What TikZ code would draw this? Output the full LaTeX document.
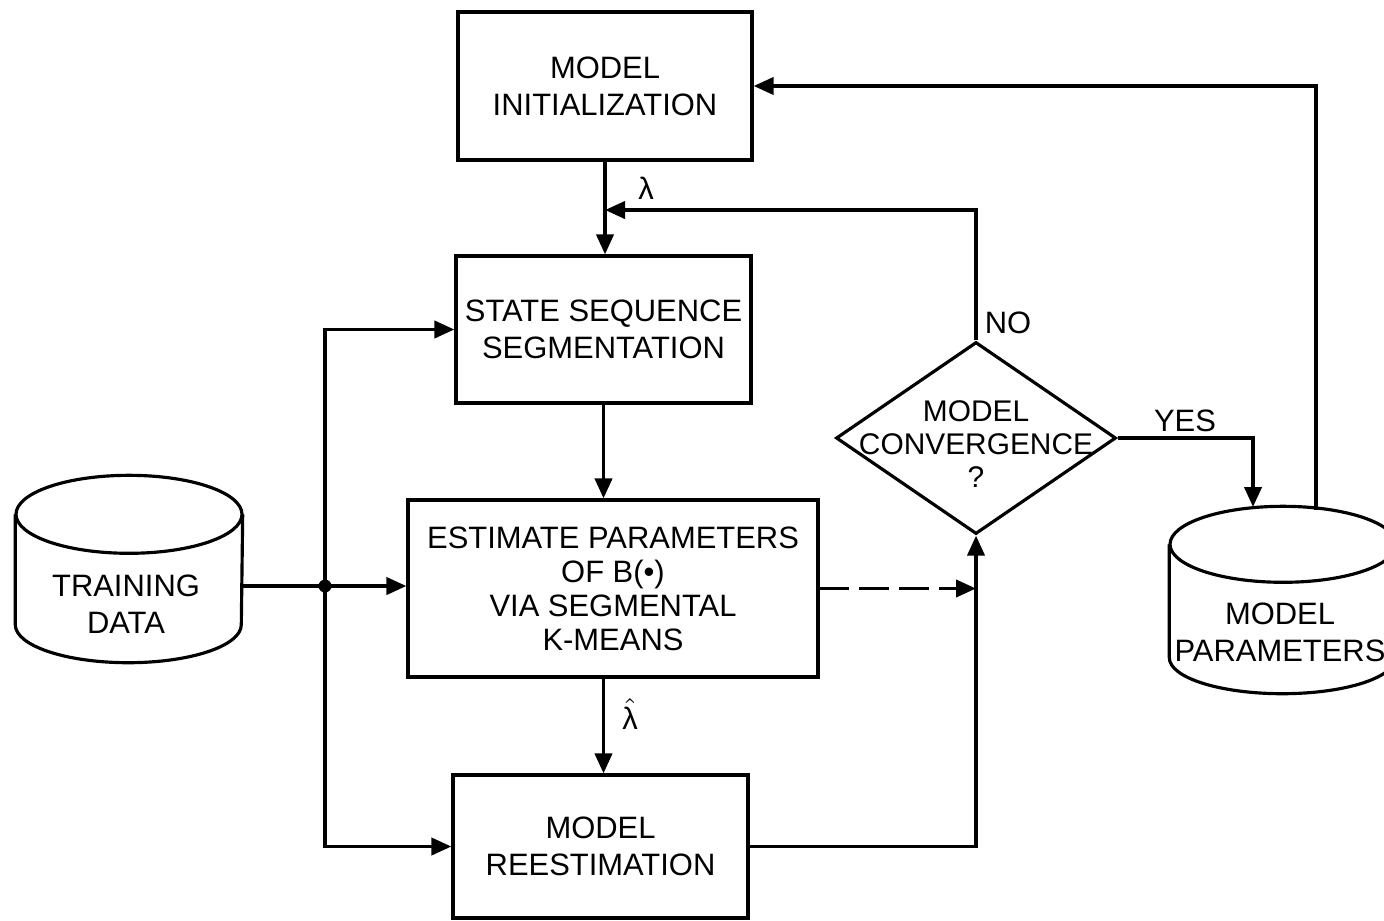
\documentclass[tikz,border=0pt]{standalone}
\usepackage{fontspec}
\setmainfont{Liberation Sans}
\usetikzlibrary{arrows.meta,shapes.geometric,positioning}
\tikzstyle{block}=[draw, line width=0.9pt, align=center, inner sep=0pt, font=\fontsize{8.8}{10.6}\selectfont]
\tikzstyle{store}=[inner sep=0pt, minimum width=2.26cm, minimum height=1.86cm]
\tikzstyle{outline}=[line width=0.9pt]
\tikzstyle{decision}=[draw, diamond, line width=0.9pt, inner sep=0pt, minimum width=2.8cm, minimum height=1.92cm]
\tikzstyle{flow}=[-{Triangle[length=0.2cm,width=0.17cm]}, line width=1.1pt]
\tikzstyle{lbl}=[inner sep=0pt, align=center, font=\fontsize{8.8}{10.6}\selectfont]

\begin{document}
\begin{tikzpicture}
	\useasboundingbox (0,0) rectangle (13.84,9.2);
	% boxes
	\node [block, minimum width=2.94cm, minimum height=1.48cm] (init) at (6.05,8.34) {MODEL\\INITIALIZATION};
	\node [block, minimum width=2.95cm, minimum height=1.47cm] (seg) at (6.035,5.905) {STATE SEQUENCE\\SEGMENTATION};
	\node [block, minimum width=4.10cm, minimum height=1.77cm, font=\fontsize{8.8}{9.7}\selectfont] (est) at (6.13,3.315) {ESTIMATE PARAMETERS\\OF B(•)\\VIA SEGMENTAL\\K-MEANS};
	\node [block, minimum width=2.95cm, minimum height=1.43cm] (reest) at (6.005,0.735) {MODEL\\REESTIMATION};

	% data stores
	\node [store] (train) at (1.29,3.51) {};
	\node [lbl] (traintxt) at (1.26,3.16) {TRAINING\\DATA};
	\node [store] (param) at (12.83,3.20) {};
	\node [lbl] (paramtxt) at (12.80,2.88) {MODEL\\PARAMETERS};
	\draw [style=outline] ([yshift=-0.39cm]train.north west) -- ([yshift=0.38cm]train.south west)
		arc (180:360:1.13 and 0.38) -- ([yshift=-0.39cm]train.north east);
	\draw [style=outline] ([yshift=-0.39cm]train.north) ellipse (1.13 and 0.39);
	\draw [style=outline] ([yshift=-0.38cm]param.north west) -- ([yshift=0.36cm]param.south west)
		arc (180:360:1.13 and 0.36) -- ([yshift=-0.38cm]param.north east);
	\draw [style=outline] ([yshift=-0.38cm]param.north) ellipse (1.13 and 0.38);

	\node [decision] (conv) at (9.76,4.82) {};
	\node [lbl, font=\fontsize{8.5}{9.4}\selectfont] (convtxt) at (9.76,4.76) {MODEL\\CONVERGENCE\\?};

	% labels
	\node [lbl] (lam) at (6.46,7.32) {λ};
	\node [lbl] (lamhat) at (6.30,2.06) {$\hat{\mbox{λ}}$};
	\node [lbl] (no) at (10.08,5.97) {NO};
	\node [lbl] (yes) at (11.85,4.99) {YES};

	\coordinate (jn) at (3.25,3.34);
	\coordinate (fb) at (6.05,7.10);
	\coordinate (yesin) at (12.53,4.13);
	\coordinate (back) at (13.16,4.10);

	% connectors
	\draw [style=flow] (init) to (init |- seg.north);
	\draw [style=flow] (conv.north) |- (fb);
	\draw [style=flow] (seg.south) to (seg.south |- est.north);
	\draw [style=flow] (est.south -| seg.south) to (seg.south |- reest.north);
	\draw [style=flow] (train.east |- jn) to (est.west |- jn);
	\draw [style=flow] (jn) |- (seg.west);
	\draw [style=flow] (jn) |- (reest.west);
	\fill (jn) circle (0.065);
	\draw [style=flow, dash pattern=on 8.5pt off 2.8pt] (est.east) to (est.east -| conv.south);
	\draw [style=flow] (reest.east) -| (conv.south);
	\draw [style=flow] (conv.east) -| (yesin);
	\draw [style=flow] (back) |- (init.east);
\end{tikzpicture}
\end{document}
